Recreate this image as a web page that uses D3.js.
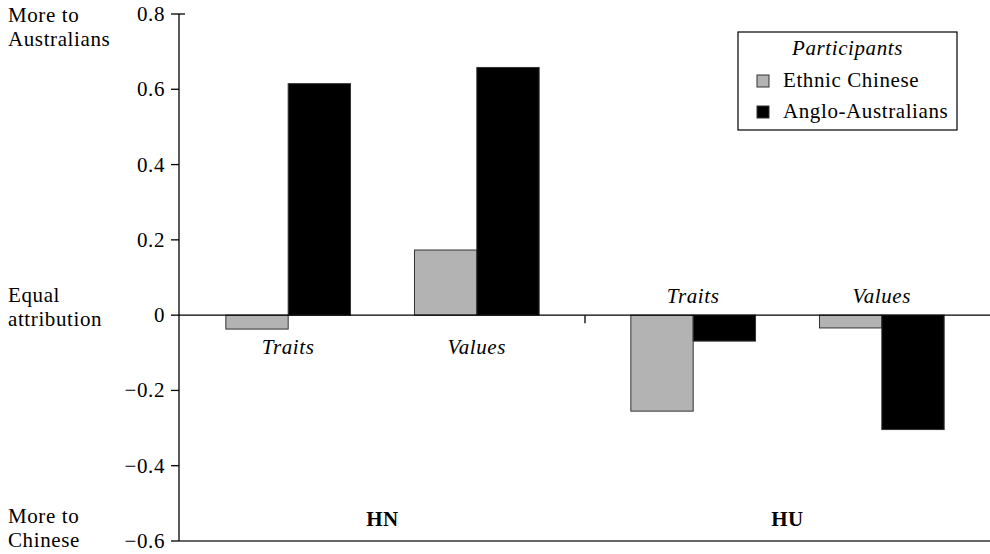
<!DOCTYPE html>
<html>
<head>
<meta charset="utf-8">
<script src="https://cdn.jsdelivr.net/npm/d3@7"></script>
<style>
	body { margin: 0; background: #fff; }
</style>
</head>
<body>
<svg id="chart"></svg>
<script>
const groups = ['HN', 'HU'];
const measures = ['Traits', 'Values'];
const seriesNames = ['Ethnic Chinese', 'Anglo-Australians'];
const ethnicChinese = [-0.037, 0.173, -0.255, -0.034];
const angloAustralians = [0.615, 0.658, -0.069, -0.304];
const yTicks = [0.8, 0.6, 0.4, 0.2, 0, -0.2, -0.4, -0.6];
const colors = ['#b3b3b3', '#000000'];

function buildRows() {
	const rows = [];
	let i = 0;
	groups.forEach(g => {
		measures.forEach(m => {
			rows.push({ group: g, measure: m, values: [ethnicChinese[i], angloAustralians[i]] });
			i++;
		});
	});
	return rows;
}

function render() {
	const width = 990;
	const height = 554;
	const axisX = 179;
	const fontSize = 21;

	const svg = d3.select('#chart')
		.attr('width', width)
		.attr('height', height)
		.style('font-family', '"Liberation Serif", "Times New Roman", serif')
		.style('letter-spacing', '0.6px')
		.style('display', 'block');

	const y = d3.scaleLinear().domain([-0.6, 0.8]).range([541, 14]);
	const x0 = d3.scaleBand().domain(groups).range([180, 990]);
	const x1 = d3.scaleBand().domain(measures).range([0, x0.bandwidth()])
		.paddingInner(0.339)
		.paddingOuter(0.243);
	const x2 = d3.scaleBand().domain(seriesNames).range([0, x1.bandwidth()]);

	const rows = buildRows();

	// bars
	const g = svg.selectAll('g.cat')
		.data(rows)
		.enter()
		.append('g')
		.attr('class', 'cat')
		.attr('transform', d => `translate(${x0(d.group) + x1(d.measure)},0)`);

	g.selectAll('rect')
		.data(d => d.values.map((v, k) => ({ v, k })))
		.enter()
		.append('rect')
		.attr('x', d => x2(seriesNames[d.k]))
		.attr('width', x2.bandwidth())
		.attr('y', d => y(Math.max(0, d.v)))
		.attr('height', d => Math.abs(y(d.v) - y(0)))
		.attr('fill', d => colors[d.k])
		.attr('stroke', '#333')
		.attr('stroke-width', 1);

	// measure labels
	g.append('text')
		.attr('x', x1.bandwidth() / 2)
		.attr('y', d => d.group === 'HN' ? y(0) + 39 : y(0) - 12)
		.attr('text-anchor', 'middle')
		.attr('font-style', 'italic')
		.attr('font-size', fontSize)
		.text(d => d.measure);

	// y axis
	svg.append('line')
		.attr('x1', axisX).attr('x2', axisX)
		.attr('y1', y(0.8)).attr('y2', y(-0.6))
		.attr('stroke', '#000').attr('stroke-width', 1.3);

	svg.selectAll('line.ytick')
		.data(yTicks)
		.enter()
		.append('line')
		.attr('class', 'ytick')
		.attr('x1', axisX - 8)
		.attr('x2', d => d === 0.8 ? axisX + 6 : axisX)
		.attr('y1', d => y(d)).attr('y2', d => y(d))
		.attr('stroke', '#000').attr('stroke-width', 1.3);

	svg.selectAll('text.ytick')
		.data(yTicks)
		.enter()
		.append('text')
		.attr('class', 'ytick')
		.attr('x', 165)
		.attr('y', d => y(d) + 7)
		.attr('text-anchor', 'end')
		.attr('font-size', fontSize)
		.text(d => d === 0 ? '0' : d3.format('.1f')(d).replace('-', '\u2013'));

	// zero line and bottom line
	svg.append('line')
		.attr('x1', axisX).attr('x2', width)
		.attr('y1', y(0)).attr('y2', y(0))
		.attr('stroke', '#000').attr('stroke-width', 1.3);
	svg.append('line')
		.attr('x1', x0('HU')).attr('x2', x0('HU'))
		.attr('y1', y(0)).attr('y2', y(0) + 8)
		.attr('stroke', '#000').attr('stroke-width', 1.3);
	svg.append('line')
		.attr('x1', axisX).attr('x2', width)
		.attr('y1', y(-0.6)).attr('y2', y(-0.6))
		.attr('stroke', '#333').attr('stroke-width', 1.5);

	// group labels
	svg.selectAll('text.group')
		.data(groups)
		.enter()
		.append('text')
		.attr('class', 'group')
		.attr('x', d => x0(d) + x0.bandwidth() / 2)
		.attr('y', 526)
		.attr('text-anchor', 'middle')
		.attr('font-weight', 'bold')
		.attr('font-size', fontSize)
		.text(d => d);

	// side annotations
	const notes = [
		{ lines: ['More to', 'Australians'], y: 22 },
		{ lines: ['Equal', 'attribution'], y: 302 },
		{ lines: ['More to', 'Chinese'], y: 523 },
	];
	notes.forEach(n => {
		const t = svg.append('text')
			.attr('x', 8)
			.attr('y', n.y)
			.attr('font-size', fontSize);
		n.lines.forEach((line, k) => {
			t.append('tspan')
				.attr('x', 8)
				.attr('dy', k === 0 ? 0 : 24)
				.text(line);
		});
	});

	// legend
	const legend = svg.append('g').attr('transform', 'translate(738,32)');
	legend.append('rect')
		.attr('width', 219).attr('height', 98)
		.attr('fill', '#fff').attr('stroke', '#000').attr('stroke-width', 1.2);
	legend.append('text')
		.attr('x', 109.5).attr('y', 23)
		.attr('text-anchor', 'middle')
		.attr('font-style', 'italic')
		.attr('font-size', fontSize)
		.text('Participants');
	seriesNames.forEach((name, k) => {
		legend.append('rect')
			.attr('x', 19).attr('y', 43 + k * 31)
			.attr('width', 12).attr('height', 12)
			.attr('fill', colors[k]).attr('stroke', '#333');
		legend.append('text')
			.attr('x', 45).attr('y', 55 + k * 31)
			.attr('font-size', fontSize)
			.text(name);
	});
}

document.addEventListener('DOMContentLoaded', () => {
	render();
});
</script>
</body>
</html>
